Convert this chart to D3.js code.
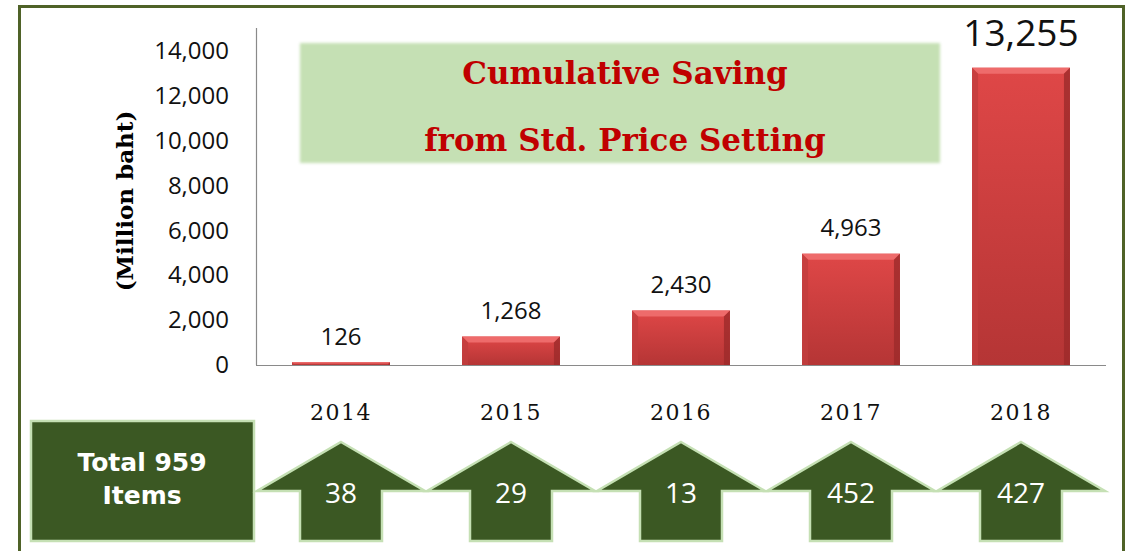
<!DOCTYPE html>
<html lang="en">
<head>
<meta charset="UTF-8">
<title>Cumulative Saving from Std. Price Setting</title>
<script src="https://d3js.org/d3.v7.min.js"></script>
<style>
  body { margin: 0; background: #fff; }
  svg { display: block; }
</style>
</head>
<body>
<script>
// chart values
const years = ["2014", "2015", "2016", "2017", "2018"];
const savings = [126, 1268, 2430, 4963, 13255];   // million baht, cumulative
const items = [38, 29, 13, 452, 427];
const yTicks = [0, 2000, 4000, 6000, 8000, 10000, 12000, 14000];
const totalItems = 959;
const titleLines = ["Cumulative Saving", "from Std. Price Setting"];

const W = 1127, H = 551;
const svg = d3.select("body").append("svg")
  .attr("width", W).attr("height", H);

const defs = svg.append("defs");
const grad = defs.append("linearGradient").attr("id", "barGrad")
  .attr("x1", 0).attr("y1", 0).attr("x2", 0).attr("y2", 1);
grad.append("stop").attr("offset", "0%").attr("stop-color", "#df4747");
grad.append("stop").attr("offset", "100%").attr("stop-color", "#b53535");
defs.append("filter").attr("id", "soft")
  .append("feGaussianBlur").attr("stdDeviation", 1.6);

// outer frame
svg.append("rect")
  .attr("x", 19.5).attr("y", 6.5)
  .attr("width", 1104).attr("height", 620)
  .attr("fill", "none").attr("stroke", "#4f6228").attr("stroke-width", 3);

const x = d3.scaleBand().domain(years).range([256, 1106]).paddingInner(0.424).paddingOuter(0.212);
const y = d3.scaleLinear().domain([0, 14000]).range([365, 51]);

// title box
svg.append("rect")
  .attr("x", 300).attr("y", 43).attr("width", 640).attr("height", 120)
  .attr("fill", "#c5e0b4").attr("filter", "url(#soft)");
svg.selectAll(".title").data(titleLines).enter().append("text")
  .attr("x", 625).attr("y", (d, i) => 73 + i * 67)
  .attr("text-anchor", "middle").attr("dominant-baseline", "central")
  .attr("font-family", "DejaVu Serif").attr("font-weight", "bold")
  .attr("font-size", 31).attr("fill", "#c00000")
  .text(d => d);

// y axis
const yAxis = svg.append("g")
  .attr("transform", "translate(256,0)")
  .call(d3.axisLeft(y).tickValues(yTicks).tickSize(0).tickPadding(27).tickFormat(d3.format(",")));
yAxis.select(".domain").remove();
yAxis.selectAll("text")
  .attr("font-family", "Open Sans").attr("font-size", 24).attr("fill", "#111");

svg.append("line")
  .attr("x1", 256.5).attr("x2", 256.5).attr("y1", 28).attr("y2", y(0))
  .attr("stroke", "#8a8a8a").attr("stroke-width", 1.2);

// x axis (years)
const xAxis = svg.append("g")
  .attr("transform", "translate(0," + y(0) + ")")
  .call(d3.axisBottom(x).tickSize(0).tickPadding(39));
xAxis.select(".domain").remove();
xAxis.selectAll("text")
  .attr("font-family", "DejaVu Serif").attr("font-size", 22)
  .attr("letter-spacing", 1.5).attr("fill", "#111");

// y axis title
svg.append("text")
  .attr("transform", "translate(124,201) rotate(-90)")
  .attr("text-anchor", "middle").attr("dominant-baseline", "central")
  .attr("font-family", "DejaVu Serif").attr("font-weight", "bold")
  .attr("font-size", 23).attr("fill", "#000")
  .text("(Million baht)");

// bars with bevel
const bars = svg.selectAll(".bar").data(years).enter().append("g").attr("class", "bar");
bars.each(function (d, i) {
  const g = d3.select(this);
  const x0 = x(d), w = x.bandwidth();
  const y0 = y(savings[i]), h = y(0) - y0;
  const b = Math.min(6, h / 2);
  g.append("rect").attr("x", x0).attr("y", y0).attr("width", w).attr("height", h)
    .attr("fill", "url(#barGrad)");
  // top highlight
  g.append("path")
    .attr("d", `M${x0},${y0}L${x0 + w},${y0}L${x0 + w - b},${y0 + b}L${x0 + b},${y0 + b}Z`)
    .attr("fill", "#ee6b6b");
  // side shades
  g.append("path")
    .attr("d", `M${x0},${y0}L${x0 + b},${y0 + b}L${x0 + b},${y0 + h}L${x0},${y0 + h}Z`)
    .attr("fill", "#c23d3d").attr("opacity", 0.8);
  g.append("path")
    .attr("d", `M${x0 + w},${y0}L${x0 + w - b},${y0 + b}L${x0 + w - b},${y0 + h}L${x0 + w},${y0 + h}Z`)
    .attr("fill", "#9c2b2b").attr("opacity", 0.8);
});

// baseline
svg.append("line")
  .attr("x1", 256).attr("x2", 1106).attr("y1", y(0) + 0.5).attr("y2", y(0) + 0.5)
  .attr("stroke", "#8a8a8a").attr("stroke-width", 1.2);

// value labels
const last = savings.length - 1;
svg.selectAll(".val").data(savings).enter().append("text")
  .attr("x", (d, i) => x(years[i]) + x.bandwidth() / 2)
  .attr("y", (d, i) => y(d) - (i === last ? 36 : 27))
  .attr("text-anchor", "middle").attr("dominant-baseline", "central")
  .attr("font-family", "Open Sans")
  .attr("font-size", (d, i) => i === last ? 37 : 24)
  .attr("fill", "#111")
  .text(d => d3.format(",")(d));

// total box
svg.append("rect")
  .attr("x", 31).attr("y", 421).attr("width", 223).attr("height", 120)
  .attr("fill", "#3b5823").attr("stroke", "#c5e0b4").attr("stroke-width", 2.5);
svg.selectAll(".tot").data(["Total " + totalItems, "Items"]).enter().append("text")
  .attr("x", 142).attr("y", (d, i) => 462 + i * 33)
  .attr("text-anchor", "middle").attr("dominant-baseline", "central")
  .attr("font-family", "DejaVu Sans").attr("font-weight", "bold")
  .attr("font-size", 25).attr("fill", "#fff")
  .text(d => d);

// arrows with item counts
const arrowTop = 442, wingY = 491, arrowBottom = 541, half = 84, shaft = 41;
const arrows = svg.selectAll(".arrow").data(items).enter().append("g").attr("class", "arrow");
arrows.append("path")
  .attr("d", (d, i) => {
    const c = x(years[i]) + x.bandwidth() / 2;
    return `M${c},${arrowTop}L${c + half},${wingY}L${c + shaft},${wingY}L${c + shaft},${arrowBottom}` +
      `L${c - shaft},${arrowBottom}L${c - shaft},${wingY}L${c - half},${wingY}Z`;
  })
  .attr("fill", "#3b5823").attr("stroke", "#c5e0b4").attr("stroke-width", 2.5)
  .attr("stroke-linejoin", "miter");
arrows.append("text")
  .attr("x", (d, i) => x(years[i]) + x.bandwidth() / 2)
  .attr("y", 492)
  .attr("text-anchor", "middle").attr("dominant-baseline", "central")
  .attr("font-family", "Open Sans").attr("font-size", 28).attr("fill", "#fff")
  .text(d => d);
</script>
</body>
</html>
